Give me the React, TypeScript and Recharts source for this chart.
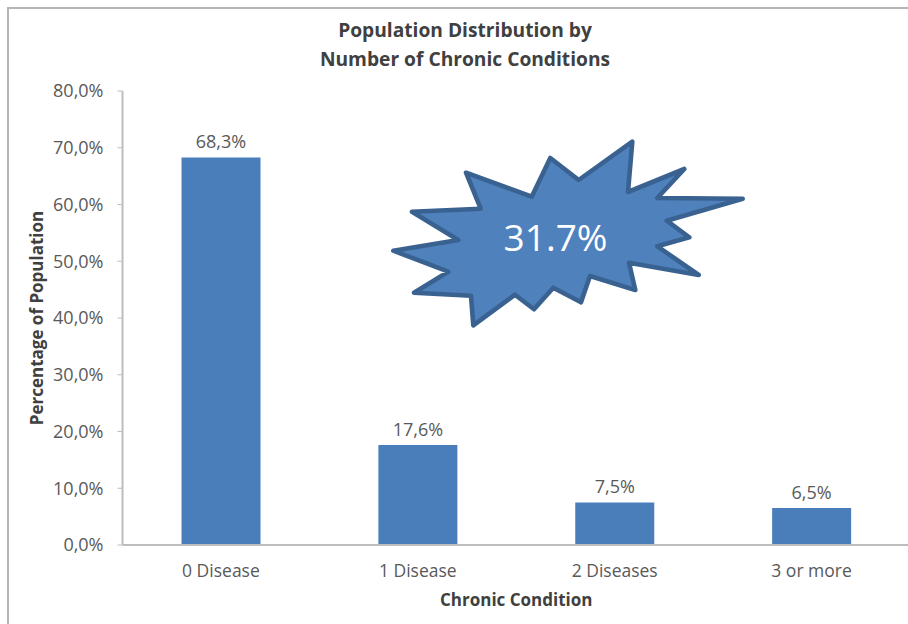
import { BarChart, Bar, XAxis, YAxis, LabelList } from 'recharts';

const categories = ['0 Disease', '1 Disease', '2 Diseases', '3 or more'];
const shares = [68.3, 17.6, 7.5, 6.5];
const yTicks = [0, 10, 20, 30, 40, 50, 60, 70, 80];
const titleLines = ['Population Distribution by', 'Number of Chronic Conditions'];
const calloutText = '31.7%';

// outline of the callout burst, clockwise from the upper-left spike
const burstOutline =
  '466,172.7 531.7,196.7 550.3,158 578.7,180 632.3,141.7 628,192 684.3,169 657.3,198 ' +
  '742.7,198.7 666.7,220.7 689.3,237.3 657.3,246.3 698.7,275 629,262.7 635.3,290 590,276 ' +
  '581,302.3 553.3,287.7 534,309.3 515,294.7 473.3,325.3 471,295.7 414,292.7 448.3,271.7 ' +
  '393.3,250.7 458.3,240 412,211.7 480.7,208.7';

const rows = categories.map((name, i) => ({ name, share: shares[i] }));

const FONT = '"Open Sans", sans-serif';
const TEXT = '#595959';
const AXIS = '#BDBDBD';

const pct = (v: number) => `${v.toFixed(1).replace('.', ',')}%`;

export default function App() {
  return (
    <div style={{ position: 'absolute', left: 0, top: 0, width: 908, height: 624, overflow: 'hidden', background: '#fff' }}>
      <div style={{ position: 'absolute', left: 7, top: 7, width: 901, height: 617, borderLeft: '2px solid #B5B5B5', borderTop: '2px solid #B5B5B5', boxSizing: 'border-box' }} />
      <BarChart width={910} height={624} data={rows} margin={{ top: 91, right: 0, bottom: 18, left: 0 }} barSize={79}>
        <XAxis
          dataKey="name"
          height={61}
          tickLine={false}
          axisLine={{ stroke: AXIS, strokeWidth: 2 }}
          tick={{ fill: TEXT, fontSize: 17.5, fontFamily: FONT }}
          tickMargin={14}
          label={{ value: 'Chronic Condition', position: 'insideBottom', offset: 0, fill: '#404040', fontSize: 17, fontWeight: 700, fontFamily: FONT }}
        />
        <YAxis
          width={122.5}
          domain={[0, 80]}
          ticks={yTicks}
          interval={0}
          tickSize={5}
          tickMargin={14}
          tickLine={{ stroke: AXIS }}
          axisLine={{ stroke: AXIS, strokeWidth: 2 }}
          tickFormatter={pct}
          tick={{ fill: TEXT, fontSize: 18, fontFamily: FONT }}
          label={{ value: 'Percentage of Population', angle: -90, position: 'insideLeft', offset: 37, style: { textAnchor: 'middle' }, fill: '#404040', fontSize: 17, fontWeight: 700, fontFamily: FONT }}
        />
        <Bar dataKey="share" fill="#4A7EBB" isAnimationActive={false}>
          <LabelList dataKey="share" position="top" offset={9} formatter={pct} fill={TEXT} fontSize={18} fontFamily={FONT} />
        </Bar>
      </BarChart>
      <svg width={908} height={624} style={{ position: 'absolute', left: 0, top: 0, pointerEvents: 'none' }}>
        {titleLines.map((line, i) => (
          <text key={line} x={465} y={37 + i * 29} textAnchor="middle" fill="#404040" fontSize={19.2} fontWeight={700} fontFamily={FONT}>
            {line}
          </text>
        ))}
        <polygon points={burstOutline} fill="#4F81BD" stroke="#3A6291" strokeWidth={4.6} strokeLinejoin="round" />
        <text x={555.5} y={251} textAnchor="middle" fill="#fff" fontSize={37} fontFamily={FONT}>
          {calloutText}
        </text>
      </svg>
    </div>
  );
}
